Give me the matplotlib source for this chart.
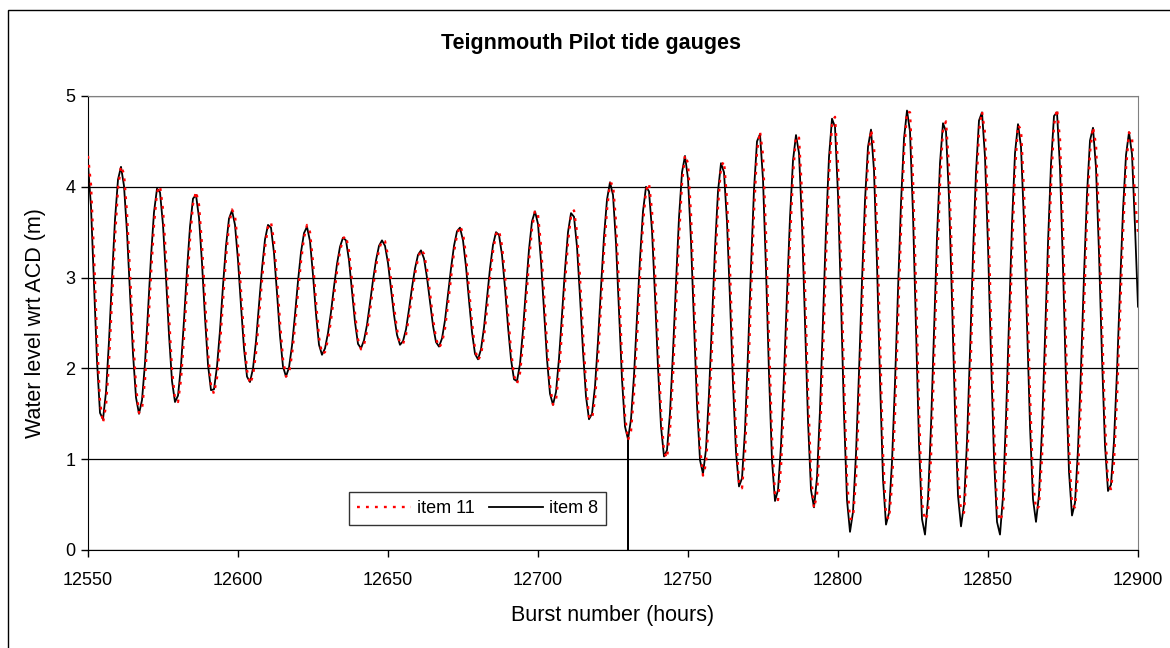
import numpy as np
import matplotlib
matplotlib.use('Agg')
import matplotlib.pyplot as plt
from matplotlib.patches import Rectangle

plt.rcParams['font.family'] = ['Liberation Sans', 'DejaVu Sans']

# ===============================================================
# data: hourly water levels (m wrt ACD), bursts 12550 .. 12900
# ===============================================================
first_hour = 12550
last_hour = 12900

item8 = [
    4.25, 3.78, 2.94, 2.08, 1.51, 1.44, 1.74, 2.30, 2.99, 3.64,  # 12550
    4.08, 4.22, 4.01, 3.50, 2.82, 2.16, 1.68, 1.50, 1.65, 2.06,  # 12560
    2.63, 3.23, 3.72, 3.98, 3.94, 3.58, 3.00, 2.37, 1.86, 1.63,  # 12570
    1.70, 2.03, 2.53, 3.08, 3.56, 3.87, 3.91, 3.66, 3.16, 2.56,  # 12580
    2.04, 1.76, 1.77, 2.02, 2.42, 2.91, 3.35, 3.65, 3.74, 3.58,  # 12590
    3.19, 2.69, 2.22, 1.91, 1.85, 2.00, 2.30, 2.70, 3.10, 3.42,  # 12600
    3.58, 3.55, 3.27, 2.83, 2.36, 2.02, 1.91, 2.01, 2.25, 2.59,  # 12610
    2.96, 3.28, 3.49, 3.56, 3.40, 3.03, 2.60, 2.26, 2.15, 2.22,  # 12620
    2.39, 2.62, 2.90, 3.15, 3.34, 3.44, 3.41, 3.19, 2.85, 2.51,  # 12630
    2.27, 2.22, 2.31, 2.48, 2.72, 2.97, 3.19, 3.35, 3.41, 3.35,  # 12640
    3.16, 2.88, 2.59, 2.37, 2.26, 2.30, 2.43, 2.65, 2.89, 3.10,  # 12650
    3.25, 3.30, 3.21, 3.00, 2.73, 2.47, 2.29, 2.24, 2.33, 2.53,  # 12660
    2.81, 3.10, 3.35, 3.51, 3.55, 3.41, 3.12, 2.75, 2.40, 2.16,  # 12670
    2.10, 2.21, 2.45, 2.77, 3.10, 3.36, 3.50, 3.47, 3.25, 2.89,  # 12680
    2.46, 2.10, 1.88, 1.86, 2.05, 2.42, 2.88, 3.31, 3.62, 3.73,  # 12690
    3.59, 3.18, 2.64, 2.10, 1.72, 1.60, 1.74, 2.11, 2.59, 3.09,  # 12700
    3.50, 3.71, 3.67, 3.34, 2.79, 2.19, 1.69, 1.44, 1.50, 1.80,  # 12710
    2.30, 2.89, 3.45, 3.86, 4.05, 3.91, 3.38, 2.63, 1.88, 1.36,  # 12720
    1.22, 1.44, 1.92, 2.56, 3.21, 3.73, 4.00, 3.95, 3.52, 2.80,  # 12730
    2.01, 1.36, 1.03, 1.10, 1.51, 2.18, 2.94, 3.66, 4.16, 4.34,  # 12740
    4.09, 3.40, 2.49, 1.60, 0.99, 0.84, 1.11, 1.72, 2.51, 3.32,  # 12750
    3.95, 4.26, 4.16, 3.61, 2.76, 1.83, 1.08, 0.70, 0.79, 1.32,  # 12760
    2.17, 3.12, 3.97, 4.50, 4.58, 4.08, 3.09, 1.94, 0.99, 0.54,  # 12770
    0.66, 1.15, 1.92, 2.82, 3.66, 4.29, 4.57, 4.37, 3.60, 2.51,  # 12780
    1.42, 0.66, 0.47, 0.80, 1.54, 2.52, 3.53, 4.33, 4.75, 4.66,  # 12790
    3.91, 2.75, 1.50, 0.55, 0.20, 0.42, 1.06, 1.96, 2.96, 3.85,  # 12800
    4.44, 4.63, 4.18, 3.15, 1.87, 0.78, 0.28, 0.41, 0.97, 1.84,  # 12810
    2.86, 3.82, 4.53, 4.84, 4.61, 3.70, 2.43, 1.17, 0.34, 0.17,  # 12820
    0.56, 1.36, 2.39, 3.44, 4.26, 4.70, 4.61, 3.88, 2.75, 1.53,  # 12830
    0.60, 0.26, 0.50, 1.20, 2.18, 3.25, 4.16, 4.73, 4.82, 4.33,  # 12840
    3.35, 2.13, 1.02, 0.31, 0.17, 0.59, 1.45, 2.53, 3.59, 4.37,  # 12850
    4.69, 4.44, 3.61, 2.50, 1.37, 0.56, 0.31, 0.61, 1.33, 2.33,  # 12860
    3.38, 4.25, 4.78, 4.82, 4.21, 3.12, 1.87, 0.86, 0.38, 0.52,  # 12870
    1.11, 2.00, 3.02, 3.92, 4.51, 4.65, 4.21, 3.27, 2.12, 1.15,  # 12880
    0.65, 0.72, 1.20, 1.97, 2.88, 3.74, 4.35, 4.60, 4.36, 3.56,  # 12890
    2.68,                                                        # 12900
]

item11 = [
    4.34, 4.02, 3.25, 2.34, 1.63, 1.40, 1.59, 2.07, 2.75, 3.44,  # 12550
    3.98, 4.23, 4.14, 3.71, 3.06, 2.37, 1.80, 1.51, 1.55, 1.88,  # 12560
    2.42, 3.03, 3.58, 3.94, 4.01, 3.75, 3.22, 2.58, 1.99, 1.66,  # 12570
    1.63, 1.88, 2.34, 2.89, 3.42, 3.81, 3.95, 3.80, 3.36, 2.76,  # 12580
    2.18, 1.81, 1.72, 1.90, 2.26, 2.74, 3.22, 3.58, 3.75, 3.68,  # 12590
    3.35, 2.86, 2.36, 1.98, 1.83, 1.92, 2.17, 2.56, 2.97, 3.33,  # 12600
    3.56, 3.61, 3.40, 2.99, 2.51, 2.10, 1.91, 1.95, 2.15, 2.46,  # 12610
    2.84, 3.18, 3.44, 3.58, 3.50, 3.17, 2.74, 2.34, 2.16, 2.18,  # 12620
    2.32, 2.53, 2.80, 3.07, 3.29, 3.43, 3.46, 3.29, 2.97, 2.61,  # 12630
    2.32, 2.21, 2.26, 2.41, 2.63, 2.89, 3.12, 3.31, 3.41, 3.40,  # 12640
    3.24, 2.98, 2.68, 2.43, 2.27, 2.27, 2.37, 2.57, 2.81, 3.04,  # 12650
    3.21, 3.31, 3.26, 3.09, 2.83, 2.55, 2.33, 2.23, 2.28, 2.44,  # 12660
    2.71, 3.00, 3.28, 3.47, 3.57, 3.49, 3.24, 2.88, 2.51, 2.21,  # 12670
    2.09, 2.15, 2.35, 2.65, 2.99, 3.29, 3.48, 3.52, 3.35, 3.03,  # 12680
    2.60, 2.20, 1.92, 1.83, 1.95, 2.27, 2.72, 3.18, 3.54, 3.74,  # 12690
    3.69, 3.35, 2.83, 2.27, 1.81, 1.60, 1.65, 1.96, 2.41, 2.93,  # 12700
    3.39, 3.68, 3.74, 3.50, 3.00, 2.39, 1.83, 1.47, 1.44, 1.66,  # 12710
    2.10, 2.68, 3.28, 3.75, 4.04, 4.03, 3.61, 2.90, 2.11, 1.48,  # 12720
    1.21, 1.31, 1.72, 2.33, 3.00, 3.59, 3.96, 4.04, 3.73, 3.07,  # 12730
    2.27, 1.54, 1.08, 1.01, 1.32, 1.92, 2.67, 3.44, 4.04, 4.35,  # 12740
    4.26, 3.69, 2.81, 1.87, 1.13, 0.82, 0.95, 1.47, 2.22, 3.06,  # 12750
    3.78, 4.22, 4.28, 3.86, 3.08, 2.13, 1.28, 0.75, 0.68, 1.07,  # 12760
    1.85, 2.80, 3.72, 4.39, 4.61, 4.35, 3.48, 2.32, 1.24, 0.60,  # 12770
    0.55, 0.92, 1.62, 2.51, 3.40, 4.13, 4.56, 4.54, 3.93, 2.90,  # 12780
    1.75, 0.83, 0.46, 0.61, 1.23, 2.16, 3.20, 4.11, 4.69, 4.77,  # 12790
    4.25, 3.18, 1.90, 0.78, 0.34, 0.35, 0.78, 1.62, 2.62, 3.58,  # 12800
    4.30, 4.63, 4.45, 3.57, 2.30, 1.07, 0.38, 0.34, 0.71, 1.50,  # 12810
    2.50, 3.52, 4.35, 4.83, 4.82, 4.09, 2.89, 1.55, 0.52, 0.33,  # 12820
    0.40, 1.03, 2.02, 3.10, 4.03, 4.64, 4.72, 4.21, 3.17, 1.92,  # 12830
    0.83, 0.43, 0.41, 0.90, 1.81, 2.89, 3.89, 4.61, 4.83, 4.59,  # 12840
    3.75, 2.55, 1.35, 0.46, 0.32, 0.41, 1.10, 2.14, 3.26, 4.17,  # 12850
    4.68, 4.63, 3.96, 2.90, 1.72, 0.75, 0.45, 0.48, 1.02, 1.96,  # 12860
    3.03, 4.00, 4.68, 4.86, 4.52, 3.54, 2.28, 1.13, 0.50, 0.47,  # 12870
    0.84, 1.66, 2.67, 3.65, 4.38, 4.66, 4.46, 3.65, 2.50, 1.41,  # 12880
    0.73, 0.67, 0.97, 1.67, 2.56, 3.48, 4.20, 4.60, 4.55, 3.86,  # 12890
    3.50,                                                        # 12900
]

# item 8 drop-out: one reading at this burst falls to zero
spike_hour = 12730
spike_level = 0.0

x_ticks = [12550, 12600, 12650, 12700, 12750, 12800, 12850, 12900]
y_ticks = [0, 1, 2, 3, 4, 5]

# ===============================================================
# build series
# ===============================================================
hours = np.arange(first_hour, last_hour + 1, dtype=float)
item8 = np.array(item8)
item11 = np.array(item11)

i = spike_hour - first_hour
x8 = np.insert(hours, i + 1, [spike_hour, spike_hour])
y8 = np.insert(item8, i + 1, [spike_level, item8[i]])

# ===============================================================
# plot
# ===============================================================
fig = plt.figure(figsize=(11.7, 6.48), dpi=100)
ax = fig.add_axes([88/1170, 1 - 550/648, 1050/1170, 454/648])

ax.plot(hours, item11, color='red', lw=1.7, ls=(0, (1.2, 2.6)), label='item 11', zorder=4)
ax.plot(x8, y8, color='black', lw=1.3, label='item 8', zorder=3)

ax.set_xlim(first_hour, last_hour)
ax.set_ylim(0, 5)
ax.set_xticks(x_ticks)
ax.set_yticks(y_ticks)

# gridlines (Excel style, horizontal only)
ax.yaxis.grid(True, color='black', lw=0.9)
ax.set_axisbelow(True)

for s in ['top', 'right']:
    ax.spines[s].set_color('0.5')
for s in ['left', 'bottom']:
    ax.spines[s].set_color('black')

ax.tick_params(axis='x', direction='out', length=5, width=1, pad=11, labelsize=13)
ax.tick_params(axis='y', direction='out', length=5, width=1, pad=4, labelsize=13)

ax.set_xlabel('Burst number (hours)', fontsize=15.5, labelpad=11)
ax.set_ylabel('Water level wrt ACD (m)', fontsize=15.5, labelpad=14)

fig.text(591/1170, 1 - 44/648, 'Teignmouth Pilot tide gauges', fontsize=15.5,
         fontweight='bold', ha='center', va='center')

leg = ax.legend(loc='center', bbox_to_anchor=(0.371, 0.091), ncol=2, fontsize=13,
                frameon=True, fancybox=False, edgecolor='black', handlelength=3.0,
                handletextpad=0.3, columnspacing=0.8, borderpad=0.45)
leg.get_frame().set_linewidth(1.0)

# chart area border
fig.add_artist(Rectangle((8/1170, -0.05), 1.0, 1.05 - 10/648, transform=fig.transFigure,
                         fill=False, edgecolor='black', lw=1.0))

fig.savefig('out.png', dpi=100)
